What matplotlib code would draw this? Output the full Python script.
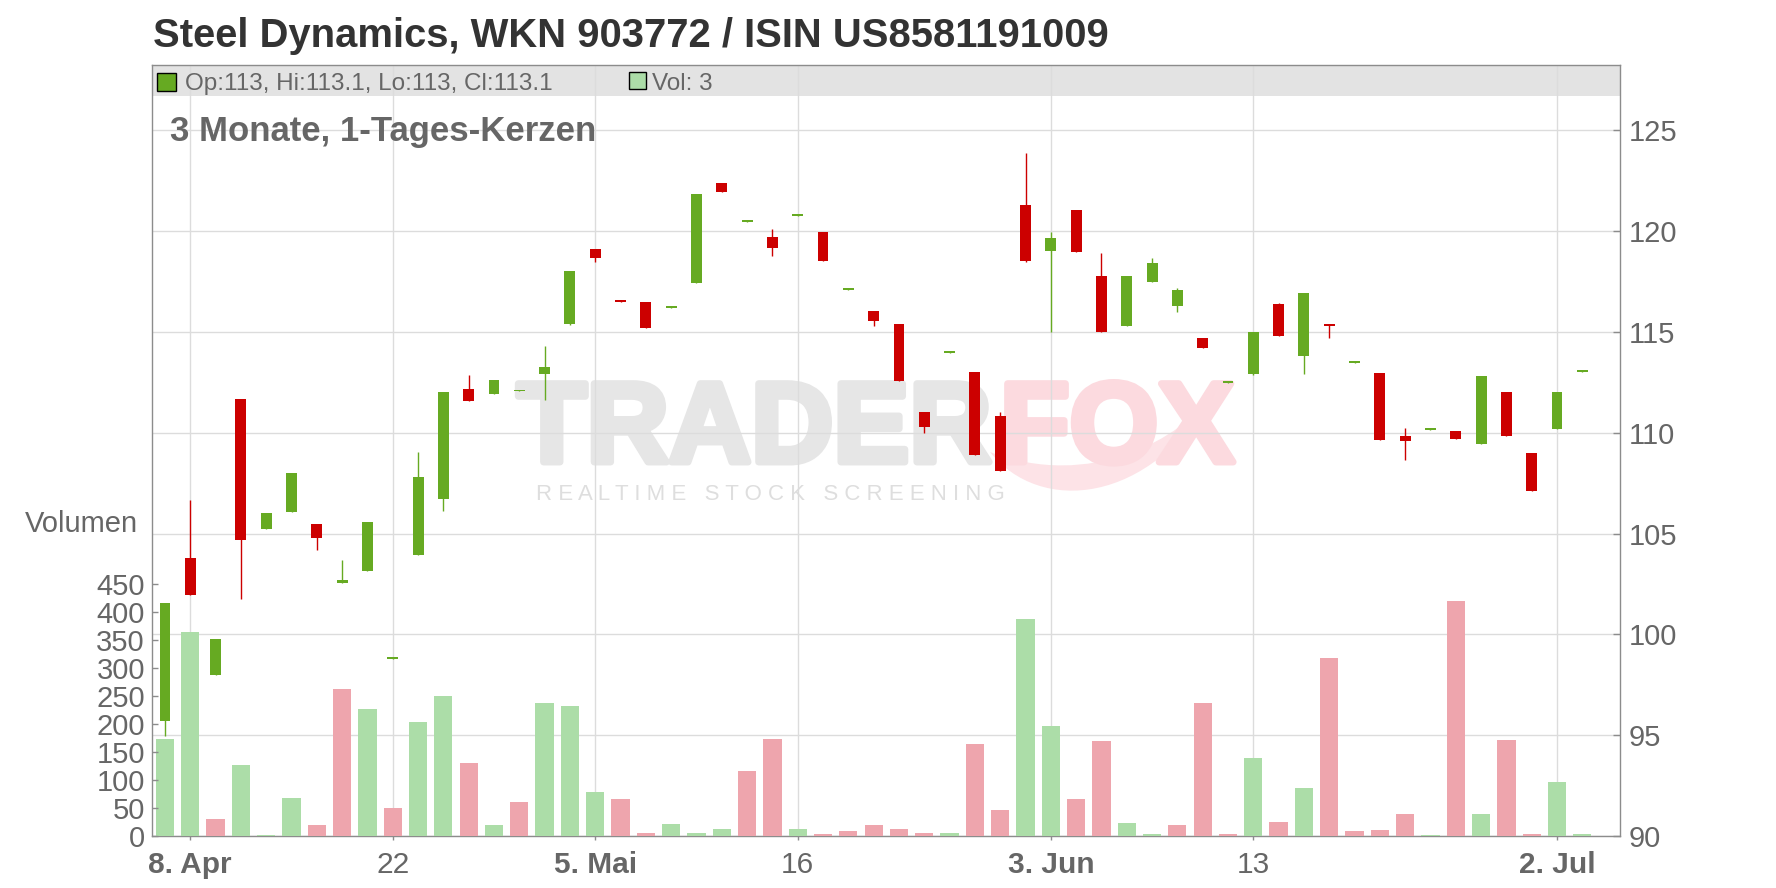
import matplotlib
import matplotlib.pyplot as plt
from matplotlib import patheffects
from matplotlib.patches import PathPatch, Rectangle
from matplotlib.path import Path

matplotlib.use("agg")

plt.rcParams["font.family"] = ["Liberation Sans", "DejaVu Sans"]

TITLE = "Steel Dynamics, WKN 903772 / ISIN US8581191009"
SUBTITLE = "3 Monate, 1-Tages-Kerzen"
LEGEND_OHLC = "Op:113, Hi:113.1, Lo:113, Cl:113.1"
LEGEND_VOL = "Vol: 3"

# daily candles, oldest first
opens = [95.70, 103.79, 97.99, 111.69, 105.24, 106.08, 105.48, 102.56, 103.16, 98.78,
         103.95, 106.73, 112.17, 111.94, 112.05, 112.93, 115.41, 119.14, 116.60, 116.49,
         116.20, 117.45, 122.40, 120.47, 119.71, 120.76, 119.96, 117.10, 116.04, 115.40,
         111.03, 113.97, 113.02, 110.83, 121.32, 119.03, 121.05, 117.78, 115.31, 117.50,
         116.30, 114.70, 112.48, 112.93, 116.39, 113.83, 115.40, 113.48, 112.97, 109.84,
         110.15, 110.09, 109.46, 112.02, 108.99, 110.20, 113.00]
highs = [101.56, 106.67, 99.77, 111.69, 106.02, 108.00, 105.48, 103.69, 105.58, 98.83,
         109.05, 112.02, 112.87, 112.62, 112.10, 114.31, 118.03, 119.14, 116.60, 116.49,
         116.25, 121.85, 122.40, 120.50, 120.11, 120.80, 119.96, 117.15, 116.04, 115.40,
         111.03, 114.00, 113.02, 111.03, 123.88, 119.96, 121.05, 118.92, 117.78, 118.67,
         117.18, 114.70, 112.50, 115.01, 116.45, 116.93, 115.40, 113.50, 112.97, 110.24,
         110.17, 110.09, 112.82, 112.02, 108.99, 112.02, 113.10]
lows = [94.96, 101.97, 97.99, 101.76, 105.24, 106.08, 104.20, 102.56, 103.16, 98.78,
        103.95, 106.13, 111.59, 111.94, 112.05, 111.65, 115.35, 118.49, 116.50, 115.21,
        116.20, 117.45, 121.96, 120.47, 118.78, 120.76, 118.54, 117.10, 115.30, 112.58,
        109.97, 113.97, 108.91, 108.12, 118.49, 115.00, 118.98, 115.01, 115.31, 117.50,
        116.01, 114.22, 112.48, 112.88, 114.82, 112.93, 114.72, 113.48, 109.66, 108.67,
        110.15, 109.71, 109.46, 109.86, 107.13, 110.20, 113.00]
closes = [101.56, 101.97, 99.77, 104.68, 106.02, 108.00, 104.80, 102.70, 105.58, 98.83,
          107.79, 112.02, 111.59, 112.62, 112.10, 113.26, 118.03, 118.69, 116.50, 115.21,
          116.25, 121.85, 121.96, 120.50, 119.18, 120.80, 118.54, 117.15, 115.56, 112.58,
          110.30, 114.00, 108.91, 108.12, 118.54, 119.66, 118.98, 115.01, 117.78, 118.42,
          117.08, 114.22, 112.50, 115.01, 114.82, 116.93, 115.31, 113.50, 109.66, 109.61,
          110.17, 109.71, 112.82, 109.86, 107.13, 112.02, 113.10]
volumes = [173, 365, 30, 127, 2, 68, 20, 263, 227, 50,
           204, 250, 131, 20, 61, 238, 232, 79, 66, 5,
           22, 5, 13, 116, 173, 13, 4, 9, 20, 13,
           5, 5, 165, 47, 388, 197, 66, 170, 23, 4,
           20, 238, 4, 140, 25, 86, 318, 9, 11, 39,
           2, 420, 39, 172, 4, 97, 3]

tick_pos = [1, 9, 17, 25, 35, 43, 55]
tick_labels = ["8. Apr", "22", "5. Mai", "16", "3. Jun", "13", "2. Jul"]
tick_bold = [True, False, True, False, True, False, True]

price_ticks = [90, 95, 100, 105, 110, 115, 120, 125]
volume_ticks = [0, 50, 100, 150, 200, 250, 300, 350, 400, 450]

UP = "#66aa22"
DOWN = "#cc0000"
VOL_UP = "#acdda8"
VOL_DOWN = "#eea5ad"
GRID = "#dcdcdc"
AXIS = "#8c8c8c"
TEXT = "#666666"

W, H = 1776, 888
LEFT, RIGHT, TOP, BOTTOM = 152.3, 1620.3, 65.3, 836.0


def fx(px):
    return px / W


def fy(py):
    return 1.0 - py / H


fig = plt.figure(figsize=(W / 100, H / 100), dpi=100, facecolor="white")
rect = [fx(LEFT), fy(BOTTOM), (RIGHT - LEFT) / W, (BOTTOM - TOP) / H]

ax = fig.add_axes(rect, zorder=1)
axv = fig.add_axes(rect, zorder=2, sharex=ax)
axc = fig.add_axes(rect, zorder=3, sharex=ax)

n = len(closes)
xs = list(range(n))

ax.set_xlim(-0.5, 57.5)
ax.set_ylim(90, 128.23)
axc.set_ylim(90, 128.23)
axv.set_ylim(0, 1378)

# background axes: grid, price scale, dates
ax.set_axisbelow(True)
ax.grid(True, color=GRID, linewidth=1.0)
for s in ax.spines.values():
    s.set_color(AXIS)
    s.set_linewidth(1.0)
ax.yaxis.tick_right()
ax.set_yticks(price_ticks)
ax.set_yticklabels([str(t) for t in price_ticks])
ax.tick_params(axis="y", direction="in", length=5, width=1, color=AXIS,
               labelsize=21, labelcolor=TEXT, pad=5.8)
ax.set_xticks(tick_pos)
ax.set_xticklabels(tick_labels)
for lab, bold in zip(ax.get_xticklabels(), tick_bold):
    lab.set_fontweight("bold" if bold else "normal")
ax.tick_params(axis="x", direction="out", length=3, width=1, color=AXIS,
               labelsize=21.5, labelcolor=TEXT, pad=8)

band_h = 30.7 / (BOTTOM - TOP)
ax.add_patch(Rectangle((0, 1 - band_h), 1, band_h, transform=ax.transAxes,
                       facecolor="#e3e3e3", edgecolor="none", zorder=0.3))

# watermark (logo-like, very light)
swoosh = Path(
    [(fx(990), fy(452)), (fx(1040), fy(515)), (fx(1150), fy(505)), (fx(1215), fy(392)),
     (fx(1180), fy(440)), (fx(1090), fy(490)), (fx(990), fy(452)), (fx(990), fy(452))],
    [Path.MOVETO, Path.CURVE4, Path.CURVE4, Path.CURVE4,
     Path.CURVE4, Path.CURVE4, Path.CURVE4, Path.CLOSEPOLY])
ax.add_patch(PathPatch(swoosh, transform=fig.transFigure, facecolor="#fde3e7",
                       edgecolor="none", zorder=0.15))
heavy_grey = [patheffects.withStroke(linewidth=5, foreground="#e6e6e6")]
heavy_pink = [patheffects.withStroke(linewidth=5, foreground="#fcdadf")]
ax.text(fx(517), fy(462), "TRADER", transform=fig.transFigure, fontsize=82,
        fontweight="bold", color="#e6e6e6", ha="left", va="baseline", zorder=0.2,
        path_effects=heavy_grey)
ax.text(fx(1000), fy(462), "FOX", transform=fig.transFigure, fontsize=82,
        fontweight="bold", color="#fcdadf", ha="left", va="baseline", zorder=0.2,
        path_effects=heavy_pink)
ax.text(fx(536), fy(500), "R E A L T I M E   S T O C K   S C R E E N I N G",
        transform=fig.transFigure, fontsize=16, color="#dedede", ha="left",
        va="baseline", zorder=0.2)

# volume axes
vol_colors = []
for i in xs:
    ref = opens[0] if i == 0 else closes[i - 1]
    vol_colors.append(VOL_UP if closes[i] >= ref else VOL_DOWN)
axv.bar(xs, volumes, width=0.72, color=vol_colors, linewidth=0)
axv.patch.set_visible(False)
for s in axv.spines.values():
    s.set_visible(False)
axv.set_yticks(volume_ticks)
axv.set_yticklabels([str(t) for t in volume_ticks])
axv.tick_params(axis="y", direction="in", length=4, width=1, color=AXIS,
                labelsize=21, labelcolor=TEXT, pad=5.3)
axv.tick_params(axis="x", bottom=False, labelbottom=False)

# candles
colors = [UP if c >= o else DOWN for o, c in zip(opens, closes)]
bodies = [max(abs(c - o), 0.08) for o, c in zip(opens, closes)]
bottoms = [min(o, c) for o, c in zip(opens, closes)]
axc.vlines(xs, lows, highs, colors=colors, linewidth=1.0, zorder=1)
axc.bar(xs, bodies, bottom=bottoms, width=0.43, color=colors, linewidth=0, zorder=2)
axc.patch.set_visible(False)
for s in axc.spines.values():
    s.set_visible(False)
axc.tick_params(axis="both", left=False, bottom=False, labelleft=False, labelbottom=False)

# texts
fig.text(fx(153), fy(46.7), TITLE, fontsize=28.8, fontweight="bold", color="#333333",
         ha="left", va="baseline")
fig.text(fx(170), fy(140.5), SUBTITLE, fontsize=25, fontweight="bold", color=TEXT,
         ha="left", va="baseline")
fig.text(fx(138), fy(531.7), "Volumen", fontsize=21, color=TEXT, ha="right", va="baseline")

fig.add_artist(Rectangle((fx(157.3), fy(90.7)), 18.4 / W, 18 / H, transform=fig.transFigure,
                         facecolor=UP, edgecolor="black", linewidth=1.0, zorder=10))
fig.text(fx(185), fy(90), LEGEND_OHLC, fontsize=17.5, color=TEXT, ha="left", va="baseline",
         zorder=10)
fig.add_artist(Rectangle((fx(628.6), fy(89.5)), 17 / W, 17 / H, transform=fig.transFigure,
                         facecolor=VOL_UP, edgecolor="black", linewidth=1.0, zorder=10))
fig.text(fx(652), fy(90), LEGEND_VOL, fontsize=17.5, color=TEXT, ha="left", va="baseline",
         zorder=10)

fig.savefig("out.png", dpi=100, facecolor="white")
plt.close(fig)
